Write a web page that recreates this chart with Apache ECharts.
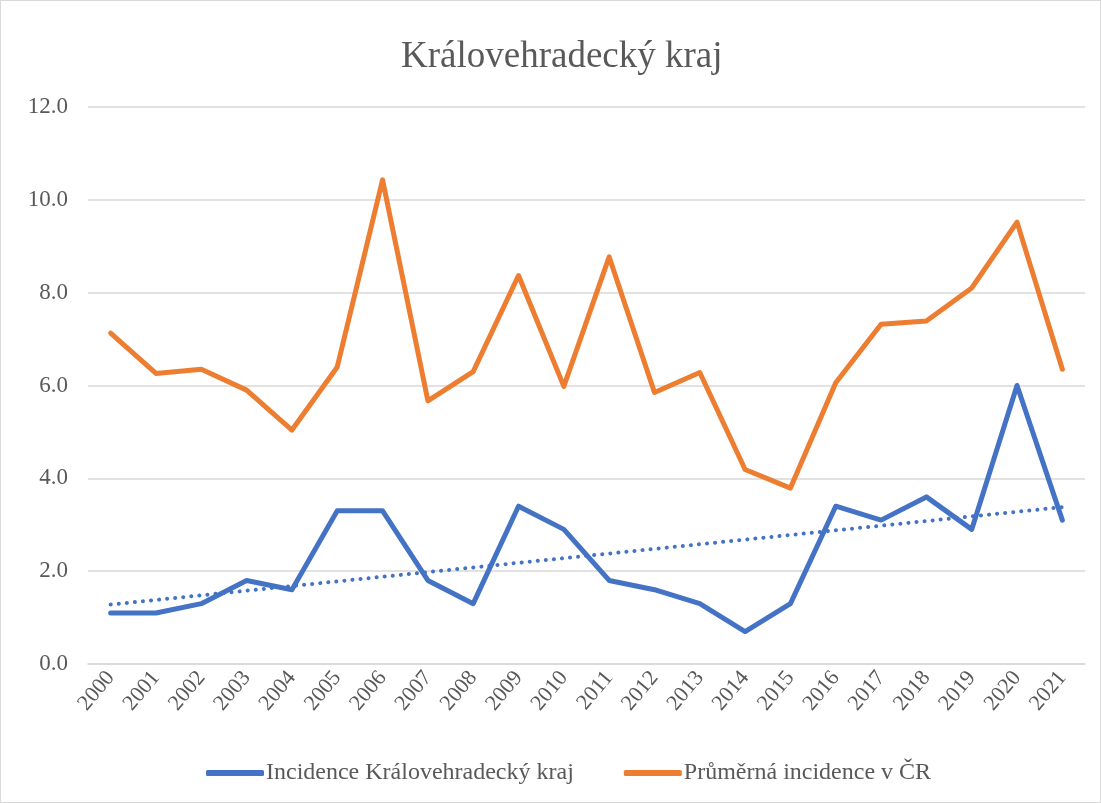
<!DOCTYPE html>
<html lang="cs">
<head>
    <meta charset="UTF-8">
    <title>Královehradecký kraj</title>
    <script src="https://cdn.jsdelivr.net/npm/echarts@6/dist/echarts.min.js"></script>
    <style>
        body { margin: 0; background: #fff; }
        #chart { width: 1099px; height: 801px; border: 1px solid #d9d9d9; }
    </style>
</head>
<body>
<div id="chart"></div>
<script type="text/javascript">
    // data
    var years = ['2000', '2001', '2002', '2003', '2004', '2005', '2006', '2007', '2008', '2009', '2010',
        '2011', '2012', '2013', '2014', '2015', '2016', '2017', '2018', '2019', '2020', '2021'];
    var kraj = [1.1, 1.1, 1.3, 1.8, 1.6, 3.3, 3.3, 1.8, 1.3, 3.4, 2.9,
        1.8, 1.6, 1.3, 0.7, 1.3, 3.4, 3.1, 3.6, 2.9, 6.0, 3.1];
    var cr = [7.13, 6.26, 6.35, 5.9, 5.04, 6.4, 10.43, 5.67, 6.3, 8.37, 5.98,
        8.77, 5.85, 6.28, 4.19, 3.79, 6.06, 7.32, 7.39, 8.1, 9.52, 6.35];
    // linear trend of the blue line, ends
    var trend = [['2000', 1.28], ['2021', 3.38]];

    var nameKraj = 'Incidence Královehradecký kraj';
    var nameCr = 'Průměrná incidence v ČR';
    var font = '"Liberation Serif", "DejaVu Serif", serif';

    var myChart = echarts.init(document.getElementById('chart'));
    var option = {
        animation: false,
        title: {
            text: 'Královehradecký kraj',
            left: 395,
            top: 33,
            textStyle: { fontFamily: font, fontSize: 37, fontWeight: 'normal', color: '#595959' }
        },
        legend: {
            data: [nameKraj, nameCr],
            top: 755,
            left: 200,
            itemWidth: 58,
            itemHeight: 6,
            itemGap: 50,
            icon: 'roundRect',
            textStyle: { fontFamily: font, fontSize: 24, color: '#595959', padding: [0, 0, 0, -3] }
        },
        grid: { left: 87, right: 15, top: 106, bottom: 138, containLabel: false },
        xAxis: {
            type: 'category',
            data: years,
            boundaryGap: true,
            axisLine: { lineStyle: { color: '#d9d9d9', width: 1.5 } },
            axisTick: { show: false },
            axisLabel: { rotate: 50, fontFamily: font, fontSize: 22, color: '#595959', margin: 10, interval: 0 }
        },
        yAxis: {
            type: 'value',
            min: 0,
            max: 12,
            interval: 2,
            axisLine: { show: false },
            axisTick: { show: false },
            splitLine: { lineStyle: { color: '#d9d9d9', width: 1.5 } },
            axisLabel: {
                fontFamily: font, fontSize: 23, color: '#595959', margin: 20,
                formatter: function (v) { return v.toFixed(1); }
            }
        },
        series: [
            {
                name: nameKraj,
                type: 'line',
                data: kraj,
                symbol: 'none',
                lineStyle: { color: '#4472C4', width: 5, cap: 'round', join: 'round' },
                itemStyle: { color: '#4472C4' },
                z: 3
            },
            {
                name: nameCr,
                type: 'line',
                data: cr,
                symbol: 'none',
                lineStyle: { color: '#ED7D31', width: 5, cap: 'round', join: 'round' },
                itemStyle: { color: '#ED7D31' },
                z: 2
            },
            {
                name: 'trend',
                type: 'line',
                data: trend,
                symbol: 'none',
                lineStyle: { color: '#4472C4', width: 4, type: [0.1, 8], cap: 'round' },
                z: 4
            }
        ]
    };
    myChart.setOption(option);
</script>
</body>
</html>
